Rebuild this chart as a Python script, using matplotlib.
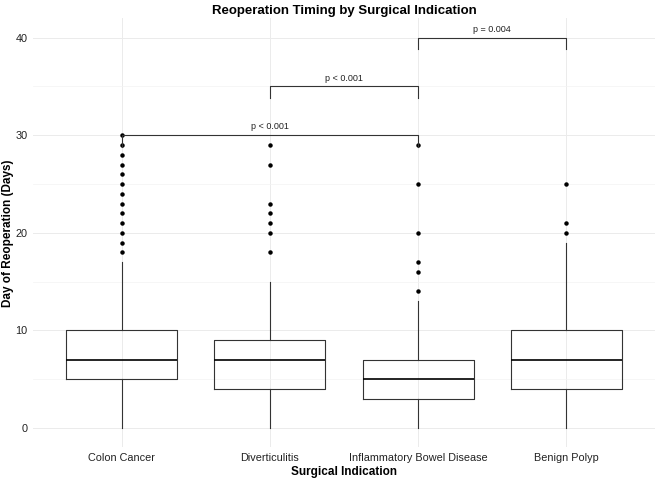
import matplotlib
matplotlib.use("Agg")
import matplotlib.pyplot as plt

plt.rcParams['font.family'] = ['Liberation Sans', 'DejaVu Sans']

# box summaries
categories = ["Colon Cancer", "Diverticulitis", "Inflammatory Bowel Disease", "Benign Polyp"]
q1 = [5, 4, 3, 4]
medians = [7, 7, 5, 7]
q3 = [10, 9, 7, 10]
whisker_low = [0, 0, 0, 0]
whisker_high = [17, 15, 13, 19]
outliers = [
    [18, 19, 20, 21, 22, 23, 24, 25, 26, 27, 28, 29, 30],
    [18, 20, 21, 22, 23, 27, 29],
    [14, 16, 17, 20, 25, 29],
    [20, 21, 25],
]

# significance brackets: (group a, group b, height, label)
bracket_pairs = [(1, 3), (2, 3), (3, 4)]
bracket_heights = [30, 35, 40]
bracket_labels = ["p < 0.001", "p < 0.001", "p = 0.004"]

stats = []
for i, name in enumerate(categories):
    stats.append(dict(label=name, q1=q1[i], med=medians[i], q3=q3[i],
                      whislo=whisker_low[i], whishi=whisker_high[i],
                      fliers=outliers[i]))

fig = plt.figure(figsize=(6.59, 4.79), dpi=100)
ax = fig.add_axes([0.050, 0.066, 0.944, 0.896])

positions = range(1, len(categories) + 1)
ax.bxp(stats, positions=positions, widths=0.75, showcaps=False,
       boxprops=dict(color="#333333", linewidth=0.8),
       whiskerprops=dict(color="#333333", linewidth=0.8),
       medianprops=dict(color="black", linewidth=1.2),
       flierprops=dict(marker="o", markersize=2.2, markerfacecolor="black",
                       markeredgecolor="black"))

#brackets
tip = 1.2
for (a, b), h, lab in zip(bracket_pairs, bracket_heights, bracket_labels):
    ax.plot([a, a, b, b], [h - tip, h, h, h - tip], color="#333333", lw=0.8)
    ax.text((a + b) / 2, h + 0.4, lab, ha="center", va="bottom", fontsize=6.5, color="#222222")

ax.set_xlim(0.4, 4.6)
ax.set_ylim(-2, 42)
ax.set_yticks([0, 10, 20, 30, 40])
ax.set_yticks([5, 15, 25, 35], minor=True)
ax.set_xticks(list(positions))
ax.set_xticklabels(categories)
ax.grid(True, which="major", color="#ebebeb", linewidth=0.7)
ax.grid(True, which="minor", axis="y", color="#f3f3f3", linewidth=0.5)
ax.set_axisbelow(True)
for s in ax.spines.values():
    s.set_visible(False)
ax.tick_params(axis="both", which="both", length=0, labelsize=7.8, colors="#222222")
ax.tick_params(axis="x", pad=4)
ax.tick_params(axis="y", pad=4)

ax.set_xlabel("Surgical Indication", fontsize=8.5, fontweight="bold", labelpad=2)
ax.set_ylabel("Day of Reoperation (Days)", fontsize=8.5, fontweight="bold", labelpad=1)
ax.set_title("Reoperation Timing by Surgical Indication", fontsize=9.5, fontweight="bold", pad=3)

fig.savefig("out.png", dpi=100)
